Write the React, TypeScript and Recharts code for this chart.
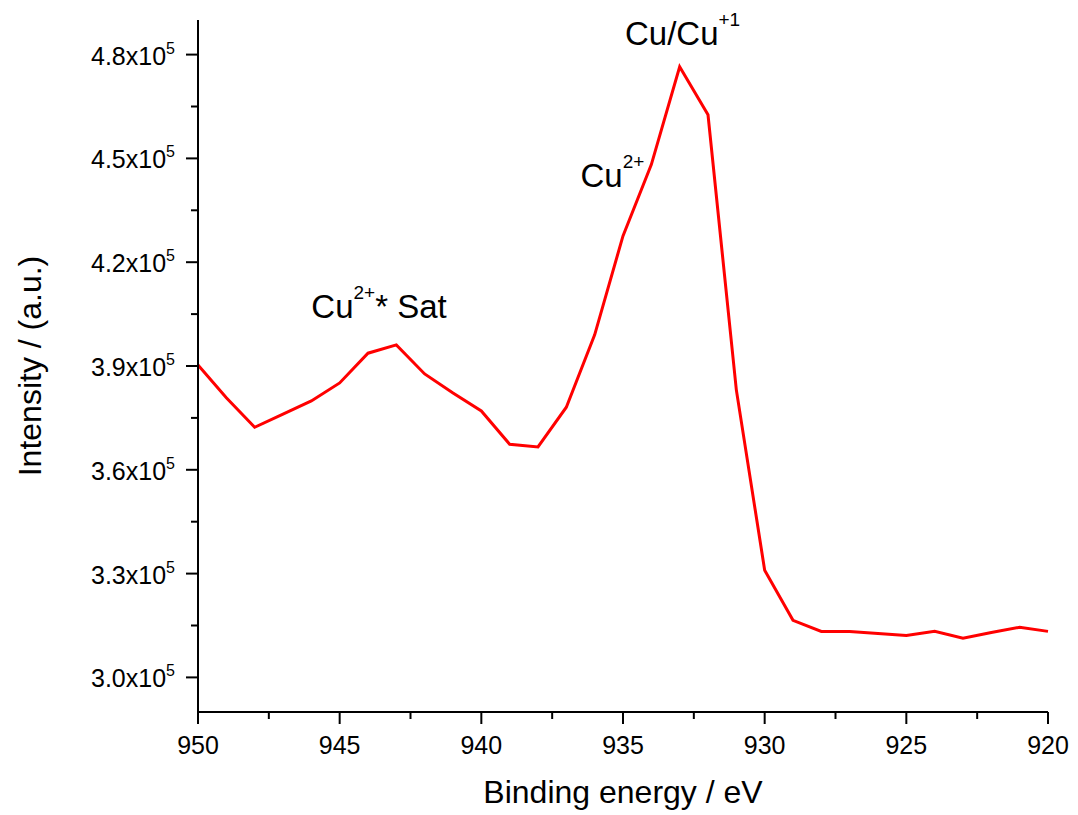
import React from "react";
import {
  LineChart,
  Line,
  XAxis,
  YAxis,
  ReferenceDot,
  Label,
} from "recharts";

// binding energy (eV), one point per eV
const energies = [
  950, 949, 948, 947, 946, 945, 944, 943, 942, 941, 940, 939, 938, 937, 936,
  935, 934, 933, 932, 931, 930, 929, 928, 927, 926, 925, 924, 923, 922, 921,
  920,
];

const intensities = [
  390300, 380800, 372300, 376100, 379900, 385100, 393700, 396100, 387700,
  382200, 377000, 367400, 366600, 378100, 399000, 427600, 448200, 476500,
  462600, 383100, 331000, 316500, 313300, 313300, 312700, 312100, 313300,
  311300, 313000, 314500, 313300,
];

const xTicks = [
  920, 922.5, 925, 927.5, 930, 932.5, 935, 937.5, 940, 942.5, 945, 947.5, 950,
];

const yTicks = [
  300000, 315000, 330000, 345000, 360000, 375000, 390000, 405000, 420000,
  435000, 450000, 465000, 480000,
];

const peaks = [
  { energy: 934.93, value: 482900, text: "Cu/Cu", sup: "+1" },
  { energy: 936.5, value: 441800, text: "Cu", sup: "2+" },
  { energy: 946, value: 403900, text: "Cu", sup: "2+", tail: "* Sat" },
];

const data = energies.map((e, i) => ({ energy: e, intensity: intensities[i] }));

const FONT = "'Liberation Sans', Arial, Helvetica, sans-serif";

const XTick = (props: any) => {
  const { x, y, payload } = props;
  const major = payload.value % 5 === 0;
  return (
    <g>
      <line x1={x} x2={x} y1={y} y2={y + (major ? 12 : 7)} stroke="#000" strokeWidth={2} />
      {major && (
        <text x={x} y={y + 42} textAnchor="middle" fontSize={25} fontFamily={FONT} fill="#000">
          {payload.value}
        </text>
      )}
    </g>
  );
};

const YTick = (props: any) => {
  const { x, y, payload } = props;
  const major = payload.value % 30000 === 0;
  return (
    <g>
      <line x1={x} x2={x - (major ? 12 : 7)} y1={y} y2={y} stroke="#000" strokeWidth={2} />
      {major && (
        <text x={x - 23} y={y + 10} textAnchor="end" fontSize={25} fontFamily={FONT} fill="#000">
          {(payload.value / 1e5).toFixed(1)}x10
          <tspan dy={-11} fontSize={16}>5</tspan>
        </text>
      )}
    </g>
  );
};

const YTitle = (props: any) => {
  const { x, y, height } = props.viewBox;
  const cx = x + 33;
  const cy = y + height / 2;
  return (
    <text
      x={cx}
      y={cy}
      transform={`rotate(-90, ${cx}, ${cy})`}
      textAnchor="middle"
      fontSize={32}
      fontFamily={FONT}
      fill="#000"
    >
      Intensity / (a.u.)
    </text>
  );
};

const PeakLabel = (p: any) => (props: any) => (
  <text x={props.cx} y={props.cy} fontSize={33} fontFamily={FONT} fill="#000">
    {p.text}
    <tspan dy={-19} fontSize={19}>{p.sup}</tspan>
    {p.tail && <tspan dy={19}>{p.tail}</tspan>}
  </text>
);

export default function App() {
  return (
    <div>
      <LineChart
        width={1070}
        height={807}
        data={data}
        margin={{ top: 12, right: 30, left: 0, bottom: 0 }}
      >
        <XAxis
          type="number"
          dataKey="energy"
          domain={[920, 950]}
          reversed
          ticks={xTicks}
          interval={0}
          height={103}
          tickSize={0}
          tickMargin={0}
          tickLine={false}
          tick={<XTick />}
          axisLine={{ stroke: "#000", strokeWidth: 2 }}
        >
          <Label
            value="Binding energy / eV"
            position="insideBottom"
            offset={12}
            fontSize={32}
            fontFamily={FONT}
            fill="#000"
          />
        </XAxis>
        <YAxis
          type="number"
          domain={[290000, 490000]}
          ticks={yTicks}
          interval={0}
          width={190}
          tickSize={0}
          tickMargin={0}
          tickLine={false}
          tick={<YTick />}
          axisLine={{ stroke: "#000", strokeWidth: 2 }}
          label={<YTitle />}
        />
        <Line
          type="linear"
          dataKey="intensity"
          stroke="#ff0000"
          strokeWidth={3}
          dot={false}
          isAnimationActive={false}
        />
        {peaks.map((p, i) => (
          <ReferenceDot
            key={i}
            x={p.energy}
            y={p.value}
            r={0}
            shape={PeakLabel(p)}
          />
        ))}
      </LineChart>
    </div>
  );
}
